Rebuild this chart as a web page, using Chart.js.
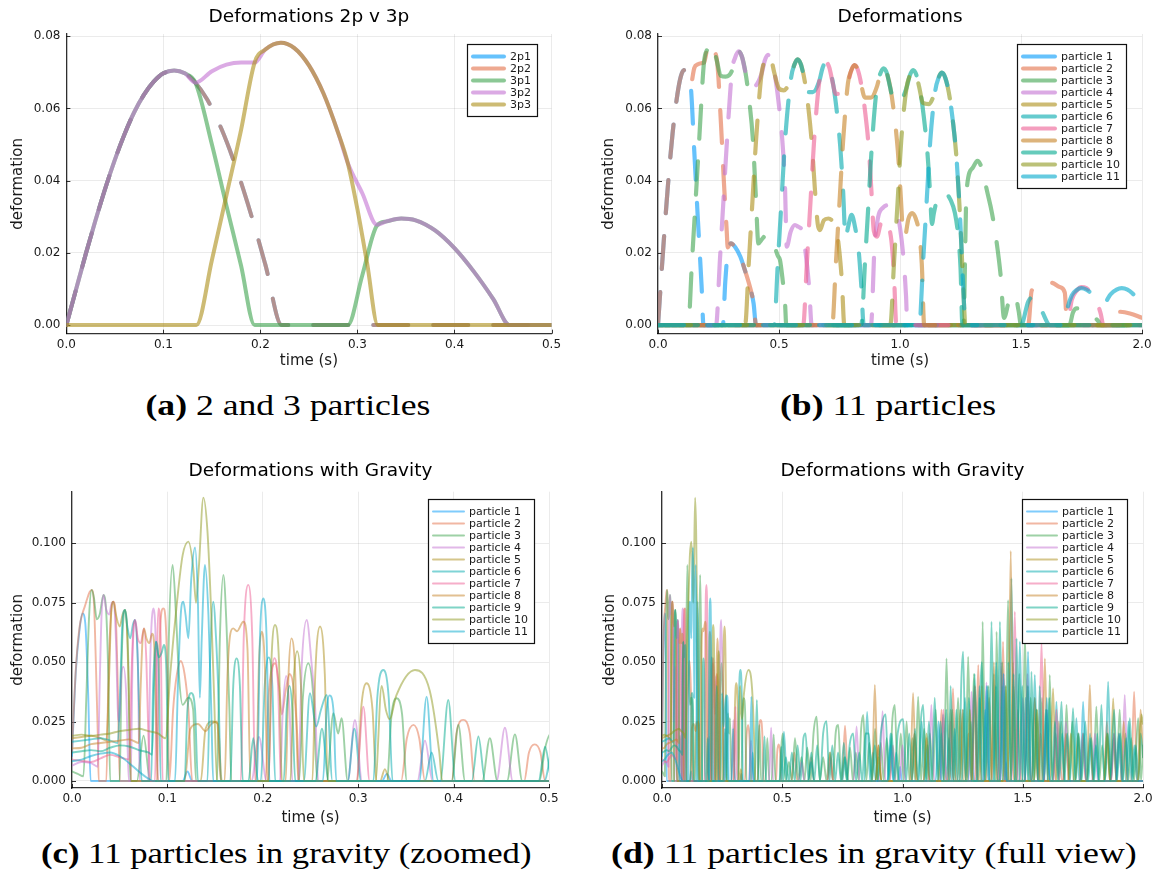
<!DOCTYPE html>
<html>
<head>
<meta charset="utf-8">
<title>Deformations</title>
<script src="https://cdn.jsdelivr.net/npm/chart.js@4.4.1/dist/chart.umd.min.js"></script>
<style>
  html, body { margin: 0; padding: 0; background: #fff; }
  #page { position: relative; width: 1156px; height: 878px; overflow: hidden; background: #fff; }
  canvas { position: absolute; }
  .caption { position: absolute; white-space: nowrap; font-family: "Liberation Serif", serif; font-size: 29px; line-height: 34px; color: #000; transform-origin: center center; }
</style>
</head>
<body>
<div id="page">
  <canvas id="panelA" width="578" height="372" style="left:0;top:0"></canvas>
  <canvas id="panelB" width="578" height="372" style="left:578px;top:0"></canvas>
  <canvas id="panelC" width="578" height="373" style="left:0;top:455px"></canvas>
  <canvas id="panelD" width="578" height="373" style="left:578px;top:455px"></canvas>
  <div class="caption" id="capA"><b>(a)</b> 2 and 3 particles</div>
  <div class="caption" id="capB"><b>(b)</b> 11 particles</div>
  <div class="caption" id="capC"><b>(c)</b> 11 particles in gravity (zoomed)</div>
  <div class="caption" id="capD"><b>(d)</b> 11 particles in gravity (full view)</div>
</div>
<script>
// ---- tick values and labels ----
const xTicksShort = [0, 0.1, 0.2, 0.3, 0.4, 0.5];
const xLabelsShort = ['0.0', '0.1', '0.2', '0.3', '0.4', '0.5'];
const xTicksLong = [0, 0.5, 1, 1.5, 2];
const xLabelsLong = ['0.0', '0.5', '1.0', '1.5', '2.0'];
const yTicksFree = [0, 0.02, 0.04, 0.06, 0.08];
const yLabelsFree = ['0.00', '0.02', '0.04', '0.06', '0.08'];
const yTicksGrav = [0, 0.025, 0.05, 0.075, 0.1];
const yLabelsGrav = ['0.000', '0.025', '0.050', '0.075', '0.100'];

// ---- 2 vs 3 particles, [time, deformation] ----
const firstArc = [[0,0],[0.01,0.0099],[0.02,0.0197],[0.03,0.029],[0.04,0.0378],[0.05,0.0458],[0.06,0.0529],[0.07,0.059],[0.08,0.0638],[0.09,0.0674],[0.1,0.0697],[0.111,0.0705],[0.122,0.0697],[0.133,0.0671]];
const bigArc = [[0.194,0.0727],[0.205,0.0763],[0.221,0.0782],[0.235,0.0767],[0.25,0.0719],[0.265,0.0641],[0.28,0.0533],[0.29,0.0449]];
const smallArc = [[0.33,0.0287],[0.345,0.0295],[0.36,0.029],[0.38,0.0262],[0.4,0.0213],[0.42,0.0148],[0.44,0.0072],[0.457,0],[0.5,0]];
const twoP = [...firstArc,[0.145,0.0625],[0.16,0.0542],[0.175,0.0435],[0.19,0.0309],[0.205,0.0168],[0.222,0],[0.5,0]];
const threeP1 = [...firstArc,[0.15,0.05],[0.165,0.033],[0.18,0.0165],[0.194,0],[0.29,0],[0.305,0.0138],[0.32,0.0275],...smallArc];
const threeP2 = [...firstArc,[0.15,0.0703],[0.165,0.0721],[0.18,0.0727],...bigArc,[0.305,0.0365],[0.32,0.0278],...smallArc];
const threeP3 = [[0,0],[0.134,0],[0.15,0.018],[0.165,0.036],[0.18,0.054],...bigArc,[0.3,0.032],[0.31,0.017],[0.321,0],[0.5,0]];

// ---- 11 particles, no gravity ----
const freeArc1 = [[0,0],[0.02,0.0197],[0.04,0.0378],[0.06,0.0529],[0.08,0.0638],[0.095,0.069],[0.108,0.0706],[0.122,0.0695],[0.135,0.0665]];
const free1 = [...freeArc1,[0.15,0.048],[0.165,0.029],[0.18,0.011],[0.188,0],[0.268,0],[0.278,0.012],[0.288,0.02],[0.3,0.0226],[0.32,0.0215],[0.34,0.019],[0.36,0.015],[0.38,0.0105],[0.395,0.006],[0.405,0],[2,0]];
const free2 = [...freeArc1,[0.15,0.0712],[0.165,0.0722],[0.178,0.0725],[0.19,0.0727],[0.203,0.0763],[0.217,0.078],[0.231,0.0764],[0.246,0.0718],[0.26,0.056],[0.272,0.04],[0.284,0.026],[0.288,0.0215],[0.3,0.0226],[0.32,0.0215],[0.34,0.019],[0.36,0.015],[0.38,0.0105],[0.395,0.006],[0.405,0],[1.53,0],[1.544,0.0095],[1.58,0.0112],[1.626,0.0117],[1.66,0.0105],[1.681,0.009],[1.69,0],[1.88,0],[1.9,0.0037],[1.95,0.0032],[2,0.002]];
const free3 = [[0,0],[0.125,0],[0.14,0.017],[0.155,0.034],[0.17,0.051],[0.19,0.0727],[0.203,0.0763],[0.217,0.078],[0.231,0.0764],[0.242,0.0735],[0.26,0.069],[0.28,0.0688],[0.306,0.0705],[0.319,0.0741],[0.333,0.0758],[0.347,0.0743],[0.362,0.0697],[0.377,0.0622],[0.392,0.0515],[0.404,0.036],[0.415,0.0226],[0.43,0.0238],[0.449,0.025],[0.465,0.0238],[0.48,0.022],[0.495,0.0192],[0.504,0.018],[0.515,0.0125],[0.525,0.006],[0.53,0],[1.262,0],[1.275,0.037],[1.3,0.0435],[1.32,0.0455],[1.34,0.043],[1.36,0.037],[1.38,0.031],[1.4,0.0226],[1.415,0.0143],[1.43,0.002],[1.45,0.0065],[1.475,0.0083],[1.49,0.004],[1.5,0],[1.7,0],[1.715,0.0035],[1.73,0.0046],[1.76,0.0042],[1.79,0.003],[1.82,0.001],[1.83,0],[2,0]];
const free4 = [[0,0],[0.24,0],[0.255,0.017],[0.27,0.034],[0.285,0.051],[0.306,0.0705],[0.319,0.0741],[0.333,0.0758],[0.347,0.0743],[0.358,0.071],[0.375,0.0665],[0.395,0.066],[0.428,0.0696],[0.441,0.0732],[0.455,0.0748],[0.469,0.0733],[0.484,0.0688],[0.499,0.0613],[0.514,0.0509],[0.525,0.038],[0.532,0.0217],[0.548,0.0258],[0.566,0.0277],[0.58,0.0272],[0.594,0.0263],[0.61,0.02],[0.625,0.01],[0.635,0],[0.88,0],[0.895,0.022],[0.91,0.03],[0.93,0.0325],[0.952,0.0332],[0.97,0.0325],[0.986,0.0314],[1,0.027],[1.015,0.018],[1.025,0.008],[1.03,0],[2,0]];
const free5 = [[0,0],[0.36,0],[0.375,0.017],[0.39,0.034],[0.405,0.051],[0.428,0.0696],[0.441,0.0732],[0.455,0.0748],[0.469,0.0733],[0.48,0.07],[0.5,0.0655],[0.52,0.065],[0.55,0.0685],[0.563,0.072],[0.577,0.0736],[0.591,0.0721],[0.606,0.0677],[0.621,0.0604],[0.636,0.05],[0.648,0.038],[0.66,0.028],[0.669,0.0263],[0.685,0.029],[0.704,0.0295],[0.72,0.0288],[0.738,0.0263],[0.75,0.02],[0.76,0.012],[0.77,0],[2,0]];
const free6 = [[0,0],[0.48,0],[0.495,0.017],[0.51,0.034],[0.525,0.051],[0.55,0.0685],[0.563,0.072],[0.577,0.0736],[0.591,0.0721],[0.602,0.069],[0.62,0.0645],[0.64,0.0645],[0.667,0.0677],[0.68,0.0712],[0.694,0.0728],[0.708,0.0713],[0.723,0.067],[0.738,0.0597],[0.753,0.0495],[0.765,0.037],[0.775,0.024],[0.785,0.027],[0.8,0.0305],[0.814,0.0272],[0.83,0.02],[0.84,0.011],[0.85,0],[1.5,0],[1.53,0.0065],[1.55,0.0078],[1.585,0.004],[1.62,0],[2,0]];
const free7 = [[0,0],[0.6,0],[0.615,0.017],[0.63,0.034],[0.645,0.051],[0.667,0.0677],[0.68,0.0712],[0.694,0.0728],[0.708,0.0713],[0.719,0.068],[0.735,0.064],[0.76,0.064],[0.785,0.067],[0.798,0.0704],[0.812,0.072],[0.826,0.0706],[0.841,0.0662],[0.856,0.059],[0.871,0.049],[0.882,0.037],[0.892,0.026],[0.905,0.0245],[0.92,0.028],[0.935,0.0295],[0.95,0.028],[0.965,0.023],[0.975,0.014],[0.985,0],[1.69,0],[1.71,0.007],[1.73,0.0095],[1.75,0.0105],[1.77,0.0102],[1.79,0.009],[1.81,0.0068],[1.83,0.003],[1.84,0],[2,0]];
const free8 = [[0,0],[0.72,0],[0.735,0.017],[0.75,0.034],[0.765,0.051],[0.785,0.067],[0.798,0.0704],[0.812,0.072],[0.826,0.0706],[0.837,0.0675],[0.855,0.063],[0.88,0.063],[0.905,0.0661],[0.918,0.0695],[0.932,0.0711],[0.946,0.0697],[0.961,0.0654],[0.976,0.0583],[0.991,0.0483],[1.002,0.037],[1.012,0.026],[1.02,0.0245],[1.035,0.0295],[1.05,0.031],[1.065,0.0295],[1.08,0.025],[1.09,0.017],[1.1,0],[2,0]];
const free9 = [[0,0],[0.84,0],[0.855,0.017],[0.87,0.034],[0.885,0.051],[0.905,0.0661],[0.918,0.0695],[0.932,0.0711],[0.946,0.0697],[0.957,0.0665],[0.975,0.062],[1,0.062],[1.027,0.0657],[1.04,0.069],[1.054,0.0706],[1.068,0.0692],[1.083,0.065],[1.098,0.0579],[1.113,0.048],[1.124,0.037],[1.132,0.028],[1.14,0.031],[1.158,0.0356],[1.186,0.0365],[1.21,0.0345],[1.227,0.031],[1.24,0.025],[1.25,0.016],[1.258,0],[2,0]];
const free10 = [[0,0],[0.96,0],[0.975,0.017],[0.99,0.034],[1.005,0.051],[1.027,0.0657],[1.04,0.069],[1.054,0.0706],[1.068,0.0692],[1.079,0.066],[1.095,0.0615],[1.12,0.0612],[1.146,0.065],[1.159,0.0684],[1.173,0.0699],[1.187,0.0685],[1.202,0.0643],[1.217,0.0573],[1.232,0.0475],[1.245,0.034],[1.255,0.02],[1.265,0.005],[1.27,0],[2,0]];
const free11 = [[0,0],[1.08,0],[1.095,0.017],[1.11,0.034],[1.125,0.051],[1.146,0.065],[1.159,0.0684],[1.173,0.0699],[1.187,0.0685],[1.202,0.0643],[1.217,0.0573],[1.232,0.0475],[1.245,0.034],[1.255,0.02],[1.265,0.005],[1.27,0],[1.68,0],[1.69,0.004],[1.71,0.0082],[1.73,0.0097],[1.75,0.0102],[1.77,0.0098],[1.79,0.0088],[1.81,0.0075],[1.83,0.0064],[1.845,0.0062],[1.87,0.0085],[1.895,0.0098],[1.916,0.0102],[1.94,0.0098],[1.96,0.0088],[1.98,0.0072],[2,0.0052]];

// ---- 11 particles with gravity ----
const grav1 = [[0,0.0105],[0.004,0.046],[0.008,0.064],[0.011,0.0705],[0.014,0.066],[0.017,0.036],[0.0195,0],[0.116,0],[0.121,0.004],[0.126,0],[0.325,0],[0.33,0.003],[0.335,0],[0.983,0],[0.99,0.006],[0.997,0],[1.423,0],[1.43,0.008],[1.437,0],[2,0]];
const grav2 = [[0,0.0125],[0.004,0.047],[0.008,0.065],[0.011,0.0705],[0.0135,0.0735],[0.016,0.0768],[0.0185,0.0795],[0.0206,0.0804],[0.023,0.075],[0.025,0.05],[0.027,0.02],[0.028,0],[0.036,0],[0.038,0.04],[0.0405,0.068],[0.0433,0.0754],[0.046,0.068],[0.048,0.04],[0.05,0],[0.089,0],[0.091,0.045],[0.093,0.068],[0.0957,0.0726],[0.098,0.068],[0.1,0.045],[0.102,0],[0.106,0.03],[0.11,0.045],[0.114,0.0505],[0.118,0.045],[0.122,0.03],[0.126,0],[0.203,0],[0.206,0.035],[0.21,0.048],[0.213,0.0495],[0.217,0.04],[0.22,0.028],[0.224,0.038],[0.228,0.045],[0.232,0.04],[0.236,0.02],[0.238,0],[0.345,0],[0.351,0.018],[0.358,0.0236],[0.364,0.018],[0.37,0],[0.398,0],[0.403,0.02],[0.41,0.0257],[0.417,0.02],[0.422,0],[0.474,0],[0.479,0.012],[0.485,0.0154],[0.491,0.012],[0.496,0],[0.538,0],[0.55,0.012],[0.562,0],[0.608,0],[0.62,0.01],[0.632,0],[0.749,0],[0.761,0.0233],[0.773,0],[0.888,0],[0.9,0.015],[0.912,0],[1.038,0],[1.05,0.02],[1.062,0],[1.088,0],[1.1,0.018],[1.112,0],[1.15,0],[1.162,0.03],[1.174,0],[1.198,0],[1.21,0.039],[1.222,0],[1.238,0],[1.25,0.03],[1.262,0],[1.274,0.02],[1.286,0],[1.303,0],[1.315,0.0488],[1.327,0],[1.348,0],[1.36,0.035],[1.372,0],[1.384,0.025],[1.396,0],[1.406,0],[1.418,0.0586],[1.43,0],[1.468,0],[1.48,0.03],[1.492,0],[1.538,0],[1.55,0.035],[1.562,0],[1.574,0.02],[1.586,0],[1.638,0],[1.65,0.025],[1.662,0],[1.738,0],[1.75,0.02],[1.762,0],[1.838,0],[1.85,0.025],[1.862,0],[1.888,0],[1.9,0.02],[1.912,0],[1.951,0],[1.963,0.0376],[1.975,0],[2,0]];
const grav3 = [[0,0.004],[0.006,0.003],[0.012,0.002],[0.015,0.035],[0.018,0.07],[0.0206,0.0804],[0.023,0.077],[0.026,0.068],[0.029,0.07],[0.033,0.0783],[0.036,0.07],[0.038,0.045],[0.04,0],[0.05,0],[0.052,0.05],[0.0556,0.072],[0.059,0.05],[0.061,0],[0.068,0],[0.075,0.019],[0.082,0],[0.099,0],[0.1015,0.06],[0.1055,0.0909],[0.109,0.07],[0.112,0.045],[0.116,0.032],[0.122,0.035],[0.127,0.03],[0.13,0],[0.152,0],[0.155,0.06],[0.1587,0.0867],[0.162,0.065],[0.165,0.03],[0.167,0],[0.238,0],[0.242,0.035],[0.2477,0.0495],[0.253,0.035],[0.257,0],[0.267,0],[0.274,0.0285],[0.279,0.02],[0.2826,0.0264],[0.289,0],[0.33,0],[0.335,0.028],[0.3403,0.0348],[0.346,0.028],[0.351,0],[0.398,0],[0.405,0.0236],[0.412,0],[0.43,0],[0.438,0.018],[0.446,0],[0.456,0],[0.4643,0.0196],[0.472,0],[0.49,0],[0.496,0.014],[0.502,0.02],[0.514,0],[0.528,0.008],[0.54,0],[0.553,0.018],[0.567,0],[0.58,0.01],[0.592,0],[0.604,0.014],[0.618,0],[0.63,0.02],[0.643,0.027],[0.656,0],[0.67,0.01],[0.684,0],[0.697,0.012],[0.71,0],[0.722,0.02],[0.733,0.0236],[0.745,0],[0.758,0.01],[0.77,0],[0.782,0.014],[0.794,0],[0.806,0.012],[0.818,0],[0.828,0.022],[0.837,0.0278],[0.849,0],[0.862,0.016],[0.874,0],[0.886,0.022],[0.898,0],[0.91,0.016],[0.922,0],[0.934,0.018],[0.946,0],[0.958,0.026],[0.968,0.032],[0.98,0],[0.993,0.02],[1.005,0],[1.017,0.025],[1.029,0],[1.041,0.018],[1.053,0],[1.065,0.0355],[1.077,0],[1.09,0.022],[1.102,0],[1.114,0.02],[1.126,0],[1.138,0.03],[1.15,0],[1.162,0.02],[1.172,0],[1.183,0.0516],[1.195,0],[1.207,0.03],[1.219,0],[1.231,0.035],[1.243,0],[1.252,0.03],[1.262,0],[1.273,0.0523],[1.285,0],[1.297,0.045],[1.309,0],[1.321,0.035],[1.327,0],[1.333,0.067],[1.345,0],[1.358,0.04],[1.37,0],[1.38,0.045],[1.386,0],[1.391,0.0628],[1.403,0],[1.415,0.05],[1.427,0],[1.433,0.04],[1.439,0.0761],[1.451,0],[1.462,0.04],[1.474,0],[1.486,0.045],[1.498,0],[1.509,0.0614],[1.521,0],[1.533,0.035],[1.545,0],[1.557,0.03],[1.569,0],[1.58,0.035],[1.59,0],[1.6,0.03],[1.606,0],[1.612,0.0446],[1.624,0],[1.637,0.02],[1.649,0],[1.66,0.025],[1.671,0],[1.682,0.032],[1.694,0],[1.706,0.025],[1.718,0],[1.73,0.02],[1.742,0],[1.754,0.02],[1.766,0],[1.78,0.018],[1.794,0],[1.806,0.0313],[1.818,0],[1.83,0.015],[1.842,0],[1.854,0.02],[1.866,0],[1.878,0.018],[1.89,0],[1.903,0.03],[1.915,0],[1.927,0.02],[1.939,0],[1.951,0.018],[1.963,0],[1.98,0.0264],[1.992,0],[2,0.015]];
const grav4 = [[0,0.0065],[0.01,0.008],[0.02,0.0075],[0.027,0.006],[0.029,0.04],[0.031,0.07],[0.033,0.0783],[0.036,0.072],[0.039,0.07],[0.041,0.074],[0.0433,0.0754],[0.046,0.06],[0.048,0.03],[0.0495,0.025],[0.052,0.046],[0.054,0.048],[0.057,0.035],[0.0595,0],[0.0615,0],[0.0635,0.052],[0.066,0.0677],[0.069,0.05],[0.071,0],[0.08,0],[0.082,0.05],[0.0853,0.0726],[0.088,0.055],[0.09,0],[0.188,0],[0.196,0.0185],[0.204,0],[0.218,0],[0.221,0.03],[0.2245,0.0442],[0.228,0.03],[0.231,0],[0.237,0],[0.241,0.05],[0.246,0.0677],[0.251,0.05],[0.255,0.03],[0.258,0],[0.289,0],[0.2966,0.0257],[0.304,0],[0.362,0],[0.37,0.017],[0.378,0],[0.445,0],[0.4538,0.0224],[0.462,0],[0.568,0],[0.58,0.008],[0.592,0],[0.688,0],[0.7,0.01],[0.712,0],[0.797,0],[0.809,0.0229],[0.821,0],[0.905,0],[0.917,0.0294],[0.929,0],[0.988,0],[1,0.015],[1.012,0],[1.108,0],[1.12,0.032],[1.132,0],[1.188,0],[1.2,0.025],[1.212,0],[1.275,0],[1.287,0.0376],[1.299,0],[1.337,0],[1.349,0.0415],[1.361,0],[1.408,0],[1.42,0.045],[1.432,0],[1.488,0],[1.5,0.035],[1.512,0],[1.588,0],[1.6,0.03],[1.612,0],[1.668,0],[1.68,0.025],[1.692,0],[1.788,0],[1.8,0.02],[1.812,0],[1.912,0],[1.924,0.0362],[1.936,0],[2,0]];
const grav5 = [[0,0.018],[0.01,0.0185],[0.02,0.019],[0.03,0.018],[0.036,0.017],[0.039,0.045],[0.041,0.07],[0.0433,0.0754],[0.046,0.07],[0.05,0.065],[0.053,0.07],[0.0556,0.072],[0.058,0.06],[0.06,0.03],[0.062,0],[0.135,0],[0.14,0.022],[0.147,0.025],[0.153,0.024],[0.157,0],[0.252,0],[0.255,0.045],[0.26,0.065],[0.265,0.045],[0.268,0],[0.299,0],[0.303,0.03],[0.3088,0.0411],[0.315,0.03],[0.319,0],[0.323,0],[0.328,0.005],[0.333,0],[0.888,0],[0.9,0.015],[0.912,0],[1.038,0],[1.05,0.02],[1.062,0],[1.228,0],[1.24,0.03],[1.252,0],[1.318,0],[1.33,0.04],[1.342,0],[1.448,0],[1.46,0.05],[1.472,0],[1.538,0],[1.55,0.035],[1.562,0],[1.614,0],[1.626,0.039],[1.638,0],[1.718,0],[1.73,0.02],[1.742,0],[1.864,0],[1.876,0.0348],[1.888,0],[2,0]];
const grav6 = [[0,0.0165],[0.01,0.017],[0.02,0.0175],[0.03,0.018],[0.04,0.017],[0.048,0.016],[0.051,0.045],[0.053,0.068],[0.0556,0.072],[0.058,0.065],[0.061,0.06],[0.064,0.066],[0.066,0.0677],[0.069,0.05],[0.071,0.02],[0.073,0],[0.083,0],[0.085,0.04],[0.088,0.0586],[0.091,0.045],[0.093,0],[0.142,0],[0.145,0.055],[0.148,0.0754],[0.151,0.06],[0.154,0.03],[0.156,0],[0.198,0],[0.202,0.04],[0.206,0.052],[0.21,0.04],[0.213,0],[0.243,0],[0.2494,0.0369],[0.256,0.0229],[0.261,0.03],[0.267,0.0362],[0.273,0],[0.289,0],[0.296,0.022],[0.303,0],[0.316,0],[0.32,0.035],[0.3263,0.0467],[0.332,0.035],[0.336,0],[0.37,0],[0.377,0.012],[0.384,0],[0.495,0],[0.507,0.0207],[0.519,0],[0.608,0],[0.62,0.008],[0.632,0],[0.75,0],[0.762,0.01],[0.774,0],[0.841,0],[0.853,0.029],[0.865,0],[0.877,0.012],[0.889,0],[0.938,0],[0.95,0.02],[0.962,0],[0.974,0.012],[0.986,0],[1.068,0],[1.08,0.025],[1.092,0],[1.104,0.015],[1.116,0],[1.157,0],[1.169,0.028],[1.181,0],[1.193,0.018],[1.205,0],[1.217,0.022],[1.229,0],[1.248,0],[1.26,0.035],[1.272,0],[1.284,0.025],[1.296,0],[1.308,0],[1.32,0.04],[1.332,0],[1.344,0.03],[1.356,0],[1.378,0],[1.39,0.05],[1.402,0],[1.414,0.04],[1.426,0],[1.441,0],[1.453,0.0853],[1.465,0],[1.476,0],[1.488,0.0586],[1.5,0],[1.512,0.035],[1.524,0],[1.538,0],[1.55,0.0446],[1.562,0],[1.588,0],[1.6,0.03],[1.612,0],[1.628,0],[1.64,0.0334],[1.652,0],[1.664,0.02],[1.676,0],[1.711,0],[1.723,0.0264],[1.735,0],[1.768,0],[1.78,0.02],[1.792,0],[1.804,0.015],[1.816,0],[1.843,0],[1.855,0.0418],[1.867,0],[1.879,0.02],[1.891,0],[1.928,0],[1.94,0.025],[1.952,0],[1.964,0.015],[1.976,0],[2,0]];
const grav7 = [[0,0.009],[0.01,0.0085],[0.02,0.008],[0.03,0.0095],[0.04,0.011],[0.05,0.01],[0.06,0.009],[0.062,0.04],[0.064,0.062],[0.066,0.0677],[0.069,0.06],[0.072,0.058],[0.0755,0.0642],[0.078,0.05],[0.08,0.02],[0.082,0],[0.087,0],[0.089,0.05],[0.0905,0.0726],[0.093,0.06],[0.095,0],[0.177,0],[0.18,0.06],[0.1848,0.0825],[0.189,0.06],[0.192,0],[0.206,0],[0.209,0.04],[0.212,0.0517],[0.216,0.04],[0.219,0],[0.298,0],[0.3054,0.0313],[0.312,0],[0.948,0],[0.96,0.015],[0.972,0],[1.158,0],[1.17,0.03],[1.182,0],[1.288,0],[1.3,0.04],[1.312,0],[1.398,0],[1.41,0.05],[1.422,0],[1.455,0],[1.467,0.0712],[1.479,0],[1.508,0],[1.52,0.045],[1.532,0],[1.566,0],[1.578,0.0586],[1.59,0],[1.628,0],[1.64,0.03],[1.652,0],[1.738,0],[1.75,0.02],[1.762,0],[1.868,0],[1.88,0.02],[1.892,0],[2,0]];
const grav8 = [[0,0.0137],[0.01,0.014],[0.02,0.0155],[0.03,0.016],[0.04,0.0165],[0.05,0.017],[0.06,0.0175],[0.07,0.016],[0.072,0.04],[0.074,0.06],[0.0755,0.0642],[0.078,0.06],[0.081,0.058],[0.084,0.062],[0.086,0.058],[0.088,0.03],[0.09,0],[0.118,0],[0.124,0.022],[0.132,0.024],[0.14,0.021],[0.146,0.024],[0.152,0.025],[0.156,0],[0.16,0],[0.163,0.045],[0.166,0.062],[0.169,0.0642],[0.173,0.063],[0.1796,0.067],[0.184,0.055],[0.187,0],[0.193,0],[0.196,0.05],[0.1988,0.0628],[0.202,0.05],[0.205,0],[0.224,0],[0.227,0.045],[0.23,0.06],[0.234,0.045],[0.237,0],[0.688,0],[0.7,0.012],[0.712,0],[0.873,0],[0.885,0.0404],[0.897,0],[1.032,0],[1.044,0.037],[1.056,0],[1.188,0],[1.2,0.03],[1.212,0],[1.289,0],[1.301,0.04],[1.313,0],[1.368,0],[1.38,0.05],[1.392,0],[1.438,0],[1.45,0.0968],[1.462,0],[1.508,0],[1.52,0.04],[1.532,0],[1.58,0],[1.592,0.0516],[1.604,0],[1.668,0],[1.68,0.02],[1.692,0],[1.767,0],[1.779,0.0404],[1.791,0],[1.908,0],[1.92,0.025],[1.932,0],[1.978,0],[1.99,0.03],[2,0.01]];
const grav9 = [[0,0.012],[0.01,0.0125],[0.02,0.013],[0.03,0.0125],[0.04,0.014],[0.05,0.015],[0.06,0.0145],[0.07,0.013],[0.08,0.012],[0.084,0.011],[0.086,0.04],[0.088,0.0586],[0.091,0.052],[0.094,0.054],[0.0964,0.0572],[0.099,0.045],[0.101,0],[0.118,0],[0.121,0.03],[0.125,0.037],[0.129,0.03],[0.132,0],[0.166,0],[0.169,0.04],[0.1726,0.0516],[0.176,0.04],[0.179,0],[0.185,0],[0.19,0.018],[0.195,0],[0.222,0],[0.225,0.03],[0.228,0.04],[0.231,0.03],[0.234,0],[0.255,0],[0.262,0.022],[0.269,0],[0.386,0],[0.3944,0.0341],[0.402,0],[0.419,0],[0.426,0.0187],[0.433,0],[0.489,0],[0.496,0.0144],[0.503,0],[0.515,0.01],[0.528,0],[0.54,0.012],[0.552,0],[0.564,0.015],[0.576,0],[0.588,0.018],[0.597,0.02],[0.609,0],[0.621,0.012],[0.633,0],[0.645,0.015],[0.657,0],[0.67,0.02],[0.684,0.0252],[0.696,0],[0.708,0.015],[0.72,0],[0.732,0.012],[0.744,0],[0.756,0.016],[0.768,0],[0.78,0.015],[0.795,0.02],[0.807,0],[0.82,0.012],[0.832,0],[0.846,0.02],[0.86,0.02],[0.872,0],[0.885,0.015],[0.897,0],[0.91,0.02],[0.93,0.028],[0.942,0],[0.955,0.02],[0.967,0],[0.98,0.02],[1.003,0.026],[1.015,0],[1.028,0.02],[1.04,0],[1.052,0.022],[1.064,0],[1.076,0.025],[1.086,0.032],[1.098,0],[1.11,0.025],[1.122,0],[1.134,0.035],[1.146,0],[1.158,0.025],[1.17,0],[1.182,0.03],[1.192,0],[1.2,0.04],[1.212,0],[1.224,0.03],[1.236,0],[1.244,0.04],[1.252,0.0544],[1.264,0],[1.276,0.035],[1.288,0],[1.3,0.045],[1.312,0],[1.33,0.05],[1.342,0],[1.354,0.04],[1.36,0],[1.37,0.067],[1.382,0],[1.388,0.04],[1.395,0],[1.405,0.067],[1.417,0],[1.428,0.04],[1.434,0],[1.44,0.05],[1.452,0],[1.462,0.045],[1.468,0],[1.474,0.06],[1.486,0],[1.498,0.04],[1.51,0],[1.522,0.04],[1.529,0],[1.536,0.046],[1.548,0],[1.558,0.03],[1.564,0],[1.57,0.04],[1.582,0],[1.596,0.03],[1.603,0],[1.61,0.035],[1.622,0],[1.634,0.025],[1.646,0],[1.661,0.0334],[1.673,0],[1.685,0.02],[1.697,0],[1.709,0.0306],[1.721,0],[1.733,0.02],[1.745,0],[1.76,0.025],[1.772,0],[1.785,0.018],[1.797,0],[1.81,0.02],[1.815,0],[1.827,0.032],[1.839,0],[1.852,0.02],[1.864,0],[1.88,0.03],[1.892,0],[1.905,0.02],[1.917,0],[1.93,0.018],[1.936,0],[1.945,0.0264],[1.957,0],[1.97,0.015],[1.982,0],[1.99,0.02],[2,0.01]];
const grav10 = [[0,0.019],[0.01,0.0195],[0.02,0.019],[0.03,0.0195],[0.04,0.02],[0.05,0.021],[0.06,0.0215],[0.07,0.022],[0.08,0.021],[0.09,0.02],[0.098,0.018],[0.103,0.045],[0.11,0.075],[0.116,0.095],[0.122,0.1007],[0.127,0.09],[0.13,0.075],[0.133,0.09],[0.1377,0.1192],[0.142,0.105],[0.146,0.07],[0.149,0.035],[0.152,0],[0.206,0],[0.209,0.05],[0.2128,0.0656],[0.217,0.05],[0.22,0],[0.229,0],[0.232,0.04],[0.236,0.0546],[0.24,0.04],[0.243,0],[0.318,0],[0.3246,0.04],[0.329,0.03],[0.333,0.026],[0.34,0.036],[0.3595,0.0467],[0.375,0.038],[0.385,0.012],[0.388,0],[0.888,0],[0.9,0.01],[0.912,0],[1.088,0],[1.1,0.02],[1.112,0],[1.268,0],[1.28,0.03],[1.292,0],[1.418,0],[1.43,0.04],[1.442,0],[1.548,0],[1.56,0.03],[1.572,0],[1.688,0],[1.7,0.02],[1.712,0],[1.838,0],[1.85,0.02],[1.862,0],[1.981,0],[1.993,0.028],[2,0.024]];
const grav11 = [[0,0.0083],[0.01,0.009],[0.02,0.0105],[0.03,0.0115],[0.04,0.012],[0.05,0.0105],[0.06,0.0075],[0.07,0.004],[0.08,0.001],[0.085,0],[0.108,0],[0.111,0.04],[0.114,0.07],[0.1167,0.0754],[0.119,0.07],[0.122,0.06],[0.125,0.085],[0.129,0.0982],[0.132,0.075],[0.134,0.035],[0.136,0.06],[0.1394,0.0909],[0.143,0.07],[0.146,0.03],[0.148,0],[0.194,0],[0.197,0.06],[0.2006,0.0768],[0.204,0.06],[0.207,0],[0.263,0],[0.267,0.03],[0.27,0.036],[0.274,0.03],[0.277,0],[0.364,0],[0.3717,0.0355],[0.379,0],[0.938,0],[0.95,0.015],[0.962,0],[1.138,0],[1.15,0.025],[1.162,0],[1.338,0],[1.35,0.04],[1.362,0],[1.408,0],[1.42,0.045],[1.432,0],[1.51,0],[1.522,0.0544],[1.534,0],[1.588,0],[1.6,0.035],[1.612,0],[1.739,0],[1.751,0.0334],[1.763,0],[1.888,0],[1.9,0.02],[1.912,0],[2,0]];

const freeRuns = [free1, free2, free3, free4, free5, free6, free7, free8, free9, free10, free11];
const gravRuns = [grav1, grav2, grav3, grav4, grav5, grav6, grav7, grav8, grav9, grav10, grav11];

// ---- styling ----
const FONT = '"DejaVu Sans", sans-serif';
const PALETTE = ['#009AFA', '#E36F47', '#3EA44E', '#C371D2', '#AC8D18', '#00A9AD', '#ED5E93', '#C68225', '#00A98D', '#8E971E', '#00A8CB'];
const AXIS = 'rgba(0,0,0,0.8)';
const GRID = 'rgba(0,0,0,0.08)';
const TEXT = '#1a1a1a';

Chart.defaults.font.family = FONT;
Chart.defaults.color = TEXT;

function rgba(hex, a) {
  const n = parseInt(hex.slice(1), 16);
  return `rgba(${n >> 16},${(n >> 8) & 255},${n & 255},${a})`;
}

// legend drawn as a framed box inside the plot, top right
const boxLegend = {
  id: 'boxLegend',
  afterDatasetsDraw(chart, args, opts) {
    const {ctx, chartArea} = chart;
    const sets = chart.data.datasets;
    ctx.save();
    ctx.font = `${opts.fontSize}px ${FONT}`;
    const textW = Math.max(...sets.map(d => ctx.measureText(d.label).width));
    const w = Math.round(4 + opts.lineLength + 4 + textW + 6);
    const h = opts.rowHeight * (sets.length + 1);
    const x = Math.round(chartArea.right - opts.right - w);
    const y = Math.round(chartArea.top + opts.top);
    ctx.fillStyle = '#fff';
    ctx.fillRect(x, y, w, h);
    ctx.strokeStyle = '#111';
    ctx.lineWidth = 1.2;
    ctx.strokeRect(x + 0.5, y + 0.5, w, h);
    sets.forEach((d, i) => {
      const cy = y + opts.rowHeight * (i + 1) + 0.5;
      ctx.setLineDash([]);
      ctx.lineCap = 'round';
      ctx.strokeStyle = d.borderColor;
      ctx.lineWidth = opts.lineWidth;
      ctx.beginPath();
      ctx.moveTo(x + 4 + opts.lineWidth / 2, cy);
      ctx.lineTo(x + 4 + opts.lineLength - opts.lineWidth / 2, cy);
      ctx.stroke();
      ctx.fillStyle = TEXT;
      ctx.textBaseline = 'middle';
      ctx.textAlign = 'left';
      ctx.fillText(d.label, x + 8 + opts.lineLength, cy + 0.5);
    });
    ctx.restore();
  }
};

// short tick marks on the inside of the axes
const innerTicks = {
  id: 'innerTicks',
  beforeDatasetsDraw(chart) {
    const {ctx, chartArea, scales} = chart;
    ctx.save();
    ctx.strokeStyle = AXIS;
    ctx.lineWidth = 1;
    ctx.beginPath();
    scales.y.ticks.forEach(t => {
      const py = Math.round(scales.y.getPixelForValue(t.value)) + 0.5;
      ctx.moveTo(chartArea.left, py);
      ctx.lineTo(chartArea.left + 4, py);
    });
    scales.x.ticks.forEach(t => {
      const px = Math.round(scales.x.getPixelForValue(t.value)) + 0.5;
      ctx.moveTo(px, chartArea.bottom);
      ctx.lineTo(px, chartArea.bottom - 4);
    });
    ctx.stroke();
    ctx.restore();
  }
};

function makePanel(p) {
  const canvas = document.getElementById(p.id);
  const W = canvas.width, H = canvas.height;
  const n = p.series.length;
  return new Chart(canvas, {
    type: 'line',
    data: {
      datasets: p.series.map((s, i) => ({
        label: s.label,
        data: s.data.map(([x, y]) => ({x, y})),
        borderColor: rgba(s.color, p.alpha),
        borderWidth: p.lineWidth,
        borderDash: s.dash ? p.dash : [],
        borderDashOffset: s.dashOffset || 0,
        borderCapStyle: 'round',
        borderJoinStyle: 'round',
        cubicInterpolationMode: 'monotone',
        pointRadius: 0,
        fill: false,
        order: n - i
      }))
    },
    options: {
      responsive: false,
      animation: false,
      devicePixelRatio: 1,
      events: [],
      layout: { padding: { left: 0, top: 0, bottom: 0, right: W - p.area.right } },
      plugins: {
        legend: { display: false },
        tooltip: { enabled: false },
        title: {
          display: true, text: p.title, fullSize: false, color: '#000',
          font: { family: FONT, size: 18.5, weight: 'normal', lineHeight: 1.2 },
          padding: p.titlePad
        },
        boxLegend: p.legend
      },
      scales: {
        x: {
          type: 'linear', min: 0, max: p.xMax,
          afterBuildTicks: s => { s.ticks = p.xTicks.map(v => ({value: v})); },
          afterFit: s => { s.height = H - p.area.bottom; s.paddingLeft = 0; s.paddingRight = 0; },
          grid: { color: GRID, lineWidth: 1, drawTicks: false },
          border: { display: true, color: AXIS, width: 1.3 },
          ticks: { callback: (v, i) => p.xLabels[i], padding: 4, font: { size: 12 }, color: TEXT, maxRotation: 0, autoSkip: false },
          title: { display: true, text: 'time (s)', color: TEXT, font: { size: 15, lineHeight: 1.2 }, padding: { top: 0, bottom: p.xTitlePad } }
        },
        y: {
          type: 'linear', min: p.yMin, max: p.yMax,
          afterBuildTicks: s => { s.ticks = p.yTicks.map(v => ({value: v})); },
          afterFit: s => { s.width = p.area.left; s.paddingTop = 0; s.paddingBottom = 0; },
          grid: { color: GRID, lineWidth: 1, drawTicks: false },
          border: { display: true, color: AXIS, width: 1.3 },
          ticks: { callback: (v, i) => p.yLabels[i], padding: 6, font: { size: 12 }, color: TEXT, autoSkip: false },
          title: { display: true, text: 'deformation', color: TEXT, font: { size: 15, lineHeight: 1.2 }, padding: { top: p.yTitlePad, bottom: 0 } }
        }
      }
    },
    plugins: [innerTicks, boxLegend]
  });
}

const freeLegend = { right: 16, top: 10, lineLength: 36, lineWidth: 4, rowHeight: 12, fontSize: 11 };
const gravLegend = { right: 15, top: 7.3, lineLength: 33, lineWidth: 2, rowHeight: 12, fontSize: 11 };

makePanel({
  id: 'panelA', title: 'Deformations 2p v 3p',
  area: { left: 66.4, right: 551.5, bottom: 333.7 },
  titlePad: { top: 6, bottom: 5.8 }, xTitlePad: 2, yTitlePad: 9,
  xMax: 0.5, xTicks: xTicksShort, xLabels: xLabelsShort,
  yMin: -0.0024, yMax: 0.0806, yTicks: yTicksFree, yLabels: yLabelsFree,
  lineWidth: 4, alpha: 0.6, dash: [35, 25],
  legend: { ...freeLegend, right: 14.5, lineLength: 35 },
  series: [
    { label: '2p1', data: twoP, color: PALETTE[0], dash: true },
    { label: '2p2', data: twoP, color: PALETTE[1], dash: true },
    { label: '3p1', data: threeP1, color: PALETTE[2] },
    { label: '3p2', data: threeP2, color: PALETTE[3] },
    { label: '3p3', data: threeP3, color: PALETTE[4] }
  ]
});

makePanel({
  id: 'panelB', title: 'Deformations',
  area: { left: 80, right: 564, bottom: 333.7 },
  titlePad: { top: 6, bottom: 5.8 }, xTitlePad: 2, yTitlePad: 22.5,
  xMax: 2, xTicks: xTicksLong, xLabels: xLabelsLong,
  yMin: -0.0024, yMax: 0.0806, yTicks: yTicksFree, yLabels: yLabelsFree,
  lineWidth: 4.2, alpha: 0.6, dash: [33, 23],
  legend: freeLegend,
  series: freeRuns.map((d, i) => ({ label: 'particle ' + (i + 1), data: d, color: PALETTE[i], dash: true, dashOffset: i < 2 ? 0 : (i - 1) * 7 }))
});

makePanel({
  id: 'panelC', title: 'Deformations with Gravity',
  area: { left: 72, right: 549, bottom: 333 },
  titlePad: { top: 5, bottom: 9.5 }, xTitlePad: 1, yTitlePad: 9,
  xMax: 0.5, xTicks: xTicksShort, xLabels: xLabelsShort,
  yMin: -0.00295, yMax: 0.1217, yTicks: yTicksGrav, yLabels: yLabelsGrav,
  lineWidth: 1.9, alpha: 0.5, dash: [],
  legend: gravLegend,
  series: gravRuns.map((d, i) => ({ label: 'particle ' + (i + 1), data: d, color: PALETTE[i] }))
});

makePanel({
  id: 'panelD', title: 'Deformations with Gravity',
  area: { left: 84, right: 565, bottom: 333 },
  titlePad: { top: 5, bottom: 9.5 }, xTitlePad: 1, yTitlePad: 22.7,
  xMax: 2, xTicks: xTicksLong, xLabels: xLabelsLong,
  yMin: -0.00295, yMax: 0.1217, yTicks: yTicksGrav, yLabels: yLabelsGrav,
  lineWidth: 1.9, alpha: 0.5, dash: [],
  legend: { ...gravLegend, right: 16, lineLength: 32 },
  series: gravRuns.map((d, i) => ({ label: 'particle ' + (i + 1), data: d, color: PALETTE[i] }))
});

// sub-figure captions, stretched to the width of the typeset originals
function placeCaption(id, cx, baseline, width) {
  const el = document.getElementById(id);
  el.style.transform = 'none';
  const w = el.offsetWidth;
  el.style.left = (cx - w / 2) + 'px';
  el.style.top = (baseline - 27) + 'px';
  el.style.transform = `scaleX(${width / w})`;
}
function placeCaptions() {
  placeCaption('capA', 287.5, 415, 285);
  placeCaption('capB', 888, 415, 216);
  placeCaption('capC', 286, 863, 490);
  placeCaption('capD', 874, 863, 526);
}
placeCaptions();
if (document.fonts && document.fonts.ready) document.fonts.ready.then(placeCaptions);
</script>
</body>
</html>
